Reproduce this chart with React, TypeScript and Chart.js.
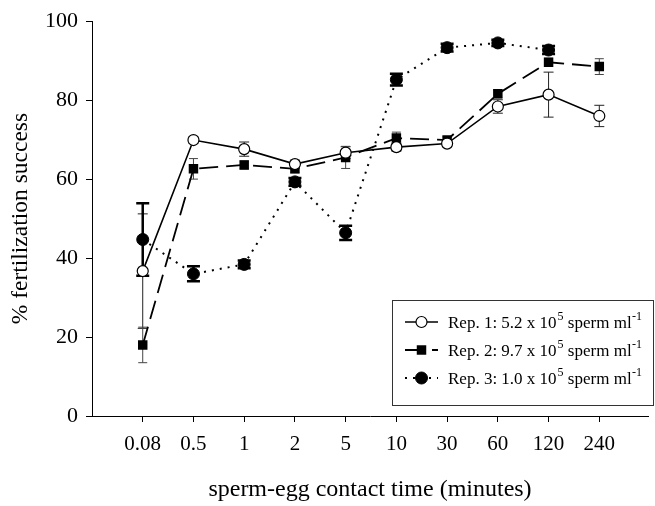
import React, { useEffect, useRef } from 'react';
import { Chart, registerables } from 'chart.js';

Chart.register(...registerables);

const categories = ['0.08', '0.5', '1', '2', '5', '10', '30', '60', '120', '240'];

const rep1Values = [36.7, 69.9, 67.6, 63.8, 66.7, 68.1, 69.0, 78.4, 81.4, 76.0];
const rep1Errors = [14.5, 0.8, 1.8, 1.0, 1.5, 1.0, 0.8, 1.7, 5.7, 2.7];

const rep2Values = [18.0, 62.6, 63.6, 62.6, 65.5, 70.4, 69.9, 81.6, 89.6, 88.5];
const rep2Errors = [4.5, 2.6, 1.0, 1.0, 2.8, 1.5, 0.8, 1.0, 1.0, 2.0];

const rep3Values = [44.7, 36.0, 38.4, 59.3, 46.4, 85.2, 93.3, 94.5, 92.7];
const rep3Errors = [9.2, 1.9, 1.0, 1.0, 1.8, 1.5, 1.0, 0.8, 1.0];

const yTicks = [0, 20, 40, 60, 80, 100];

const legendMain = ['Rep. 1: 5.2 x 10', 'Rep. 2: 9.7 x 10', 'Rep. 3: 1.0 x 10'];
const legendExp = ['5', '5', '5'];
const legendUnit = ' sperm ml';
const legendUnitExp = '-1';

const yTitle = '% fertilization success';
const xTitle = 'sperm-egg contact time (minutes)';

const FONT = '"Liberation Serif", "Times New Roman", serif';

const toPoints = (vals: number[]) => vals.map((v, i) => ({ x: i + 1, y: v }));

const errorBarPlugin = {
  id: 'errorBars',
  beforeDatasetsDraw(chart: any) {
    const ctx = chart.ctx;
    const xs = chart.scales.x;
    const ys = chart.scales.y;
    ctx.save();
    chart.data.datasets.forEach((ds: any) => {
      const st = ds.errStyle;
      ds.data.forEach((p: any, i: number) => {
        const e = ds.errors[i];
        const px = xs.getPixelForValue(p.x);
        const t = ys.getPixelForValue(p.y + e);
        const b = ys.getPixelForValue(p.y - e);
        ctx.strokeStyle = st.color;
        ctx.lineWidth = st.width;
        ctx.setLineDash([]);
        ctx.beginPath();
        ctx.moveTo(px, t);
        ctx.lineTo(px, b);
        ctx.moveTo(px - st.cap, t);
        ctx.lineTo(px + st.cap, t);
        ctx.moveTo(px - st.cap, b);
        ctx.lineTo(px + st.cap, b);
        ctx.stroke();
      });
    });
    ctx.restore();
  },
};

const legendPlugin = {
  id: 'boxLegend',
  afterDraw(chart: any) {
    const ctx = chart.ctx;
    const left = 392;
    const top = 300;
    const right = chart.width - 2;
    const bottom = 405;
    ctx.save();
    ctx.fillStyle = '#fff';
    ctx.fillRect(left, top, right - left, bottom - top);
    ctx.strokeStyle = '#333';
    ctx.lineWidth = 1;
    ctx.setLineDash([]);
    ctx.strokeRect(left + 0.5, top + 0.5, right - left, bottom - top);
    const rows = [322, 350, 378];
    chart.data.datasets.forEach((ds: any, i: number) => {
      const y = rows[i];
      const x0 = 405;
      const x1 = 438;
      const mx = (x0 + x1) / 2;
      ctx.strokeStyle = '#000';
      ctx.lineWidth = ds.borderWidth;
      ctx.setLineDash(ds.borderDash || []);
      ctx.beginPath();
      ctx.moveTo(x0, y);
      ctx.lineTo(x1, y);
      ctx.stroke();
      ctx.setLineDash([]);
      const r = ds.pointRadius;
      if (ds.pointStyle === 'rect') {
        const s = r * Math.SQRT1_2;
        ctx.fillStyle = '#000';
        ctx.fillRect(mx - s, y - s, 2 * s, 2 * s);
      } else {
        ctx.beginPath();
        ctx.arc(mx, y, r, 0, Math.PI * 2);
        ctx.fillStyle = ds.pointBackgroundColor;
        ctx.fill();
        ctx.lineWidth = ds.pointBorderWidth;
        ctx.strokeStyle = '#000';
        ctx.stroke();
      }
      ctx.fillStyle = '#000';
      ctx.textBaseline = 'alphabetic';
      ctx.textAlign = 'left';
      let tx = 448;
      const base = y + 6;
      ctx.font = `17px ${FONT}`;
      ctx.fillText(legendMain[i], tx, base);
      tx += ctx.measureText(legendMain[i]).width + 1;
      ctx.font = `12px ${FONT}`;
      ctx.fillText(legendExp[i], tx, base - 8);
      tx += ctx.measureText(legendExp[i]).width;
      ctx.font = `17px ${FONT}`;
      ctx.fillText(legendUnit, tx, base);
      tx += ctx.measureText(legendUnit).width + 0.5;
      ctx.font = `12px ${FONT}`;
      ctx.fillText(legendUnitExp, tx, base - 8);
    });
    ctx.restore();
  },
};

export default function App() {
  const ref = useRef<HTMLCanvasElement | null>(null);
  useEffect(() => {
    if (!ref.current) return;
    const chart = new Chart(ref.current, {
      type: 'line',
      data: {
        datasets: [
          {
            label: 'Rep. 1',
            data: toPoints(rep1Values),
            errors: rep1Errors,
            errStyle: { color: '#222', width: 1, cap: 5 },
            borderColor: '#000',
            borderWidth: 1.6,
            pointStyle: 'circle',
            pointRadius: 5.5,
            pointBackgroundColor: '#fff',
            pointBorderColor: '#000',
            pointBorderWidth: 1.2,
            tension: 0,
          } as any,
          {
            label: 'Rep. 2',
            data: toPoints(rep2Values),
            errors: rep2Errors,
            errStyle: { color: '#444', width: 1, cap: 4.5 },
            borderColor: '#000',
            borderWidth: 1.8,
            borderDash: [19, 8],
            pointStyle: 'rect',
            pointRadius: 6.7,
            pointBackgroundColor: '#000',
            pointBorderColor: '#000',
            pointBorderWidth: 0,
            tension: 0,
          } as any,
          {
            label: 'Rep. 3',
            data: toPoints(rep3Values),
            errors: rep3Errors,
            errStyle: { color: '#000', width: 2.5, cap: 6.5 },
            borderColor: '#000',
            borderWidth: 2,
            borderDash: [2, 6],
            pointStyle: 'circle',
            pointRadius: 6,
            pointBackgroundColor: '#000',
            pointBorderColor: '#000',
            pointBorderWidth: 1,
            tension: 0,
          } as any,
        ],
      },
      options: {
        responsive: false,
        animation: false,
        devicePixelRatio: 1,
        layout: { padding: { left: 0, top: 20, right: 2, bottom: 0 } },
        plugins: {
          legend: { display: false },
          tooltip: { enabled: false },
        },
        scales: {
          x: {
            type: 'linear',
            min: 0,
            max: 10.96,
            afterBuildTicks: (s: any) => {
              s.ticks = categories.map((_, i) => ({ value: i + 1 }));
            },
            afterFit: (s: any) => {
              s.height = 90;
            },
            ticks: {
              autoSkip: false,
              maxRotation: 0,
              padding: 10,
              color: '#000',
              font: { family: FONT, size: 21 },
              callback: (v: any) => categories[Math.round(v) - 1] ?? '',
            },
            grid: { drawOnChartArea: false, drawTicks: true, tickLength: 6, tickColor: '#000' },
            border: { display: true, color: '#000', width: 1 },
            title: {
              display: true,
              text: xTitle,
              color: '#000',
              font: { family: FONT, size: 24 },
              padding: { top: 4, bottom: 2 },
            },
          },
          y: {
            min: 0,
            max: 100,
            afterBuildTicks: (s: any) => {
              s.ticks = yTicks.map((v) => ({ value: v }));
            },
            afterFit: (s: any) => {
              s.width = 92;
            },
            ticks: {
              padding: 8,
              color: '#000',
              font: { family: FONT, size: 22 },
            },
            grid: { drawOnChartArea: false, drawTicks: true, tickLength: 6, tickColor: '#000' },
            border: { display: true, color: '#000', width: 1 },
            title: {
              display: true,
              text: yTitle,
              color: '#000',
              font: { family: FONT, size: 23.5 },
              padding: { top: 7, bottom: 0 },
            },
          },
        },
      },
      plugins: [errorBarPlugin, legendPlugin],
    } as any);
    return () => chart.destroy();
  }, []);
  return (
    <div style={{ position: 'fixed', left: 0, top: 0, width: 655, height: 506, background: '#fff' }}>
      <canvas ref={ref} width={655} height={506} style={{ width: 655, height: 506, display: 'block' }} />
    </div>
  );
}
